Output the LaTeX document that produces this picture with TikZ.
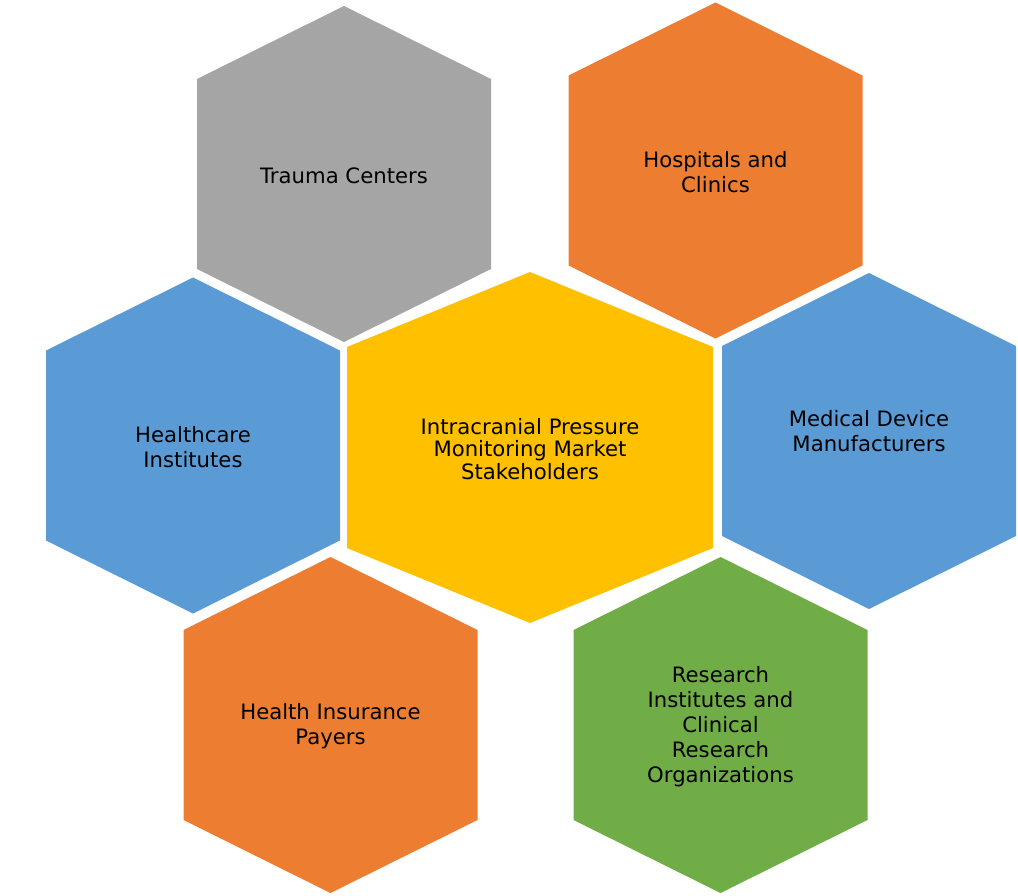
\documentclass[tikz,border=0pt]{standalone}
\usepackage{fontspec}
\setmainfont{DejaVu Sans}
\definecolor{cgray}{HTML}{A5A5A5}
\definecolor{corange}{HTML}{ED7D31}
\definecolor{cyellow}{HTML}{FFC000}
\definecolor{cblue}{HTML}{5B9BD5}
\definecolor{cgreen}{HTML}{70AD47}
% name, cx, cy, half width, tip height, half side, colour
\newcommand\hexcell[7]{%
  \fill[#7] (#2,#3-#5-#6) -- (#2+#4,#3-#6) -- (#2+#4,#3+#6) -- (#2,#3+#5+#6)
    -- (#2-#4,#3+#6) -- (#2-#4,#3-#6) -- cycle;
  \coordinate (#1) at (#2,#3+1.5);}
\begin{document}
\begin{tikzpicture}[x=1pt,y=-1pt,
  lbl/.style={align=center, text=black, inner sep=0pt,
    font=\fontsize{21.2}{25}\selectfont},
  lblc/.style={lbl, font=\fontsize{21.2}{22.7}\selectfont}]
\useasboundingbox[fill=white] (0,0) rectangle (1018,896);
\hexcell{trauma}{344}{174}{147}{73}{95}{cgray}
\hexcell{hosp}{715.5}{170.5}{147}{73}{95}{corange}
\hexcell{center}{530}{447.5}{183}{75}{100.5}{cyellow}
\hexcell{health}{193}{445.5}{147}{73}{95}{cblue}
\hexcell{medic}{869}{441}{147}{73}{95}{cblue}
\hexcell{insur}{330.5}{725}{147}{73}{95}{corange}
\hexcell{resea}{720.5}{725}{147}{73}{95}{cgreen}
\node[lbl] (ttrauma) at (trauma) {Trauma Centers};
\node[lbl] (thosp) at (hosp) {Hospitals and\\Clinics};
\node[lblc] (tcenter) at (center) {Intracranial Pressure\\Monitoring Market\\Stakeholders};
\node[lbl] (thealth) at (health) {Healthcare\\Institutes};
\node[lbl] (tmedic) at (869,431.5) {Medical Device\\Manufacturers};
\node[lbl] (tinsur) at (insur) {Health Insurance\\Payers};
\node[lbl] (tresea) at (resea) {Research\\Institutes and\\Clinical\\Research\\Organizations};
\end{tikzpicture}
\end{document}
